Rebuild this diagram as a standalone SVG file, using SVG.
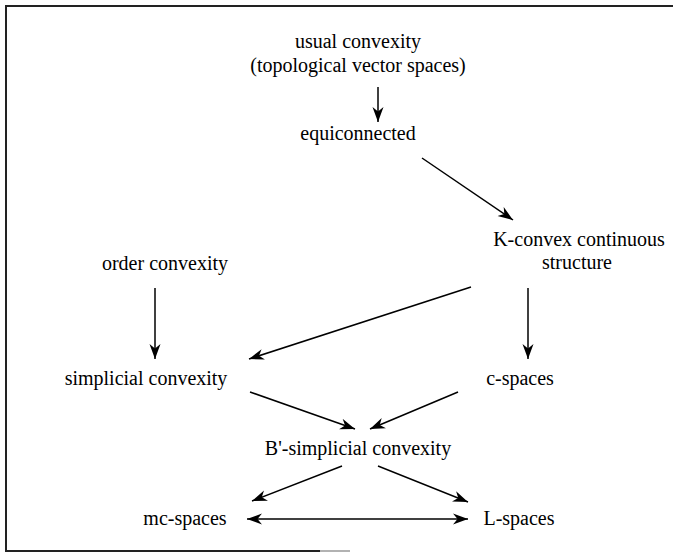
<svg xmlns="http://www.w3.org/2000/svg" width="673" height="552" viewBox="0 0 673 552">
<style>
text{font-family:"Liberation Serif","Times New Roman",serif;font-size:20px;fill:#000;text-anchor:middle}
.c{stroke:#000;stroke-width:1.5;fill:none}
.b{stroke:#222;stroke-width:2;fill:none}
</style>
<defs>
<marker id="ah" viewBox="-15 -6 16 12" refX="0" refY="0" markerWidth="16" markerHeight="12" markerUnits="userSpaceOnUse" orient="auto-start-reverse">
<path d="M0,0 L-15,-5.5 L-10.5,0 L-15,5.5 Z" fill="#000"/>
</marker>
</defs>
<g id="border">
<path class="b" d="M5,6 H673 M6,5 V551 M5,551 H320"/>
<path d="M320,551 H350" stroke="#999" stroke-width="1.5"/>
</g>
<g id="n-usual"><text x="358" y="48">usual convexity</text><text x="358" y="72">(topological vector spaces)</text></g>
<g id="n-equi"><text x="358" y="140">equiconnected</text></g>
<g id="n-kconvex"><text x="579" y="246">K-convex continuous</text><text x="577" y="269">structure</text></g>
<g id="n-order"><text x="165" y="270">order convexity</text></g>
<g id="n-simplicial"><text x="146" y="385">simplicial convexity</text></g>
<g id="n-cspaces"><text x="520" y="385">c-spaces</text></g>
<g id="n-bsimp"><text x="358" y="455">B'-simplicial convexity</text></g>
<g id="n-mc"><text x="185" y="525">mc-spaces</text></g>
<g id="n-l"><text x="519" y="525">L-spaces</text></g>
<g id="connectors">
<path class="c" marker-end="url(#ah)" d="M378,87 V122"/>
<path class="c" marker-end="url(#ah)" d="M422,158 L513,220"/>
<path class="c" marker-end="url(#ah)" d="M155,288 V359"/>
<path class="c" marker-end="url(#ah)" d="M471,287 L249,359"/>
<path class="c" marker-end="url(#ah)" d="M528,288 V359"/>
<path class="c" marker-end="url(#ah)" d="M250,392 L355,429"/>
<path class="c" marker-end="url(#ah)" d="M458,392 L370,429"/>
<path class="c" marker-end="url(#ah)" d="M342,466 L252,501"/>
<path class="c" marker-end="url(#ah)" d="M378,466 L468,502"/>
<path class="c" marker-start="url(#ah)" marker-end="url(#ah)" d="M247,519 H468"/>
</g>
</svg>
